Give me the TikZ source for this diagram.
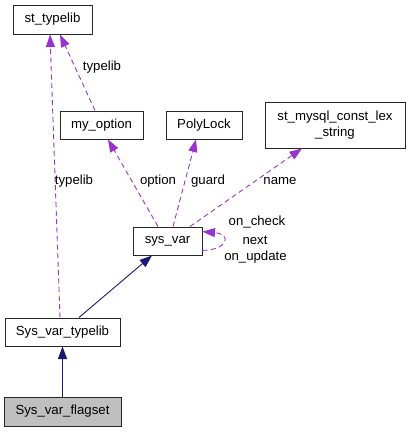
\documentclass[tikz,border=0pt]{standalone}
\usepackage{fontspec}
\setmainfont{Liberation Sans}
\usetikzlibrary{arrows.meta}
\definecolor{edgepurple}{HTML}{9A32CD}
\definecolor{edgenavy}{HTML}{191970}
\definecolor{boxgray}{HTML}{BFBFBF}
\begin{document}
\begin{tikzpicture}[x=1pt,y=-1pt,
  cls/.style={draw=black!85,line width=1pt,fill=white,inner sep=0pt,font=\fontsize{13.2}{16}\selectfont,align=center},
  lbl/.style={inner sep=0pt,font=\fontsize{13.2}{16}\selectfont},
  use/.style={draw=edgepurple,line width=0.9pt,dash pattern=on 5pt off 3.5pt,-{Triangle[length=12.5pt,width=9pt,fill=edgepurple]}},
  inh/.style={draw=edgenavy,line width=0.9pt,-{Triangle[length=12.5pt,width=9pt,fill=edgenavy]}}]
\useasboundingbox (0,0) rectangle (409,432);
\node[cls,minimum width=79pt,minimum height=29pt] (st) at (52.5,19.5) {st\_typelib};
\node[cls,minimum width=83pt,minimum height=28pt] (mo) at (101.5,125) {my\_option};
\node[cls,minimum width=76pt,minimum height=28pt] (pl) at (204,125) {PolyLock};
\node[cls,minimum width=140pt,minimum height=46pt] (sm) at (335,125) {st\_mysql\_const\_lex\\\_string};
\node[cls,minimum width=69pt,minimum height=28pt] (sv) at (167.5,241) {sys\_var};
\node[cls,minimum width=115pt,minimum height=28pt] (svt) at (62.5,332) {Sys\_var\_typelib};
\node[cls,fill=boxgray,minimum width=117pt,minimum height=29pt] (svf) at (62.5,411.5) {Sys\_var\_flagset};

\draw[inh] (svf.north) -- (svt.south);
\draw[inh] ([xshift=16.5pt]svt.north) -- ([xshift=-15.5pt]sv.south);
\draw[use] ([xshift=-2.5pt]svt.north) -- ([xshift=-2.5pt]st.south);
\draw[use] ([xshift=-6.5pt]mo.north) -- ([xshift=7.5pt]st.south);
\draw[use] ([xshift=-9.5pt]sv.north) -- ([xshift=6.5pt]mo.south);
\draw[use] ([xshift=5.5pt]sv.north) -- ([xshift=-8pt]pl.south);
\draw[use] ([xshift=22.5pt]sv.north) -- ([xshift=-33pt]sm.south);
\draw[use] (sv.-15) .. controls (228,250) and (232,234) .. (sv.15);

\node[lbl] (l1) at (102,67) {typelib};
\node[lbl] (l2) at (74,181.5) {typelib};
\node[lbl] (l3) at (158,181.5) {option};
\node[lbl] (l4) at (208,181.5) {guard};
\node[lbl] (l5) at (280,181.5) {name};
\node[lbl] (l6) at (257,222) {on\_check};
\node[lbl] (l7) at (255,240) {next};
\node[lbl] (l8) at (255.5,257) {on\_update};
\end{tikzpicture}
\end{document}
